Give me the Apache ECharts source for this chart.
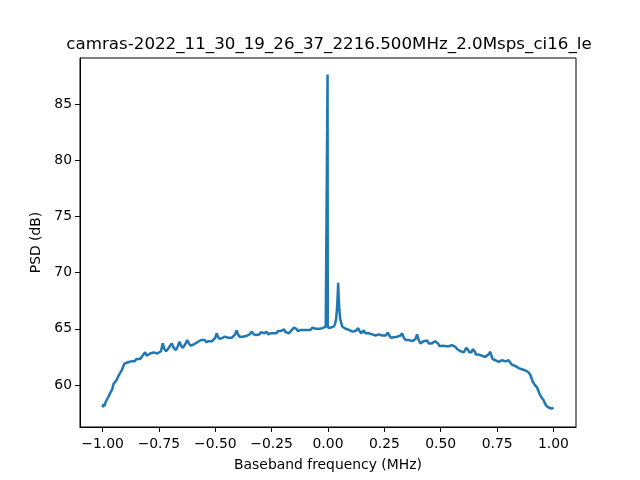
<!DOCTYPE html>
<html>
<head>
<meta charset="utf-8">
<script src="https://cdn.jsdelivr.net/npm/echarts@6/dist/echarts.min.js"></script>
<style>html,body{margin:0;padding:0;background:#fff}#c{width:640px;height:480px}</style>
</head>
<body>
<div id="c"></div>
<script>
const titleText = 'camras-2022_11_30_19_26_37_2216.500MHz_2.0Msps_ci16_le';
const xLabel = 'Baseband frequency (MHz)';
const yLabel = 'PSD (dB)';
const xTicks = [-1.0, -0.75, -0.5, -0.25, 0.0, 0.25, 0.5, 0.75, 1.0];
const yTicks = [60, 65, 70, 75, 80, 85];

const freqLeft = [-1.000,-0.996,-0.991,-0.986,-0.980,-0.975,-0.969,-0.963,-0.957,-0.951,-0.945,-0.939,-0.933,-0.927,-0.921,-0.915,-0.909,-0.903,-0.897,-0.890,-0.882,-0.874,-0.866,-0.858,-0.850,-0.842,-0.834,-0.826,-0.818,-0.811,-0.804,-0.797,-0.789,-0.781,-0.773,-0.765,-0.757,-0.749,-0.741,-0.733,-0.726,-0.718,-0.710,-0.702,-0.693,-0.684,-0.675,-0.667,-0.659,-0.652,-0.645,-0.637,-0.631,-0.625,-0.617,-0.610,-0.604,-0.596,-0.588,-0.580,-0.572,-0.563,-0.555,-0.547,-0.539,-0.530,-0.522,-0.514,-0.506,-0.500,-0.494,-0.488,-0.481,-0.475,-0.467,-0.458,-0.450,-0.443,-0.435,-0.427,-0.419,-0.412,-0.406,-0.399,-0.392,-0.386,-0.378,-0.370,-0.363,-0.357,-0.348,-0.338,-0.329,-0.320,-0.312,-0.305,-0.298,-0.291,-0.282,-0.273,-0.265,-0.255,-0.246,-0.238,-0.229,-0.222,-0.217,-0.210,-0.202,-0.195,-0.188,-0.180,-0.173,-0.165,-0.157,-0.151,-0.146,-0.140,-0.134,-0.128,-0.120,-0.112,-0.105,-0.099,-0.092,-0.085,-0.078,-0.070,-0.062,-0.055,-0.047,-0.040,-0.033,-0.025,-0.018,-0.010,-0.004];
const psdLeft = [58.0,58.3,58.1,58.5,58.6,58.9,59.0,59.4,59.6,60.1,60.2,60.4,60.5,60.9,61.1,61.3,61.6,61.9,61.8,62.0,61.9,62.1,62.2,62.1,62.3,62.4,62.3,62.5,62.6,62.9,62.6,62.7,62.8,62.7,62.9,62.8,62.8,62.9,63.0,63.7,63.2,63.0,63.2,63.3,63.7,63.3,63.1,63.4,63.85,63.5,63.3,63.5,63.7,64.0,63.7,63.5,63.4,63.6,63.7,63.8,63.8,64.0,63.9,64.0,63.8,63.9,64.0,63.9,64.05,64.2,64.6,64.3,64.1,64.05,64.2,64.3,64.35,64.2,64.05,64.2,64.3,64.5,64.85,64.5,64.3,64.25,64.3,64.2,64.35,64.3,64.5,64.75,64.5,64.45,64.6,64.5,64.7,64.55,64.6,64.75,64.5,64.6,64.6,64.7,64.6,64.8,64.65,64.8,64.7,64.95,64.7,64.6,64.6,64.8,64.9,65.1,65.25,65.0,64.8,64.75,64.9,64.8,64.9,64.75,64.9,65.0,64.9,65.1,65.25,65.0,64.85,65.0,65.1,65.05,65.1,65.2,65.2];

const freqCenter = [-0.003,-0.002,-0.001,0.000];
const psdCenter = [65.3,87.65,65.4,65.1];

const freqRight = [0.004,0.011,0.018,0.025,0.031,0.036,0.040,0.043,0.045,0.047,0.050,0.054,0.059,0.063,0.070,0.078,0.085,0.093,0.100,0.108,0.115,0.122,0.128,0.134,0.140,0.147,0.153,0.159,0.166,0.174,0.181,0.189,0.196,0.204,0.211,0.218,0.226,0.233,0.240,0.248,0.256,0.265,0.272,0.279,0.285,0.292,0.300,0.307,0.314,0.322,0.329,0.336,0.344,0.351,0.358,0.366,0.374,0.381,0.388,0.395,0.402,0.410,0.418,0.425,0.433,0.440,0.447,0.454,0.461,0.468,0.475,0.481,0.488,0.495,0.502,0.510,0.518,0.526,0.535,0.542,0.550,0.558,0.565,0.572,0.580,0.588,0.595,0.602,0.608,0.613,0.617,0.622,0.627,0.632,0.637,0.642,0.646,0.651,0.656,0.661,0.668,0.676,0.683,0.690,0.697,0.704,0.711,0.716,0.720,0.725,0.730,0.735,0.742,0.750,0.757,0.764,0.772,0.779,0.787,0.794,0.801,0.808,0.816,0.823,0.830,0.838,0.845,0.853,0.860,0.867,0.875,0.882,0.890,0.897,0.903,0.908,0.912,0.917,0.922,0.926,0.931,0.936,0.941,0.946,0.951,0.956,0.961,0.966,0.970,0.976,0.982,0.988,0.994,1.000];
const psdRight = [65.0,65.1,65.0,65.2,65.4,65.9,66.8,68.0,69.1,68.0,66.8,65.9,65.5,65.2,65.1,65.0,64.9,64.9,64.8,64.75,64.7,64.8,64.9,65.05,64.8,64.6,64.7,64.85,64.6,64.45,64.6,64.65,64.5,64.55,64.4,64.45,64.5,64.6,64.4,64.3,64.4,64.65,64.4,64.2,64.15,64.25,64.3,64.3,64.35,64.4,64.6,64.2,64.0,64.05,64.0,63.95,63.9,63.85,64.1,64.5,64.0,63.7,63.8,63.9,63.95,63.95,63.7,63.55,63.7,63.85,63.9,64.05,63.7,63.45,63.5,63.5,63.4,63.45,63.45,63.5,63.55,63.65,63.4,63.2,63.1,63.0,62.95,62.9,63.1,63.3,63.45,63.1,62.9,62.75,62.9,63.2,63.35,63.0,62.7,62.6,62.7,62.75,62.6,62.45,62.5,62.6,62.7,62.8,62.95,62.6,62.3,62.2,62.2,62.1,62.05,62.1,62.2,62.15,62.1,62.2,62.2,62.0,61.8,61.75,61.7,61.6,61.5,61.5,61.4,61.35,61.3,61.2,61.1,60.9,60.6,60.3,60.15,60.0,59.9,59.8,59.6,59.3,59.1,58.9,58.8,58.65,58.4,58.3,58.1,58.2,57.95,58.0,57.9,58.0];

const freq = freqLeft.concat(freqCenter, freqRight);
const psd = psdLeft.concat(psdCenter, psdRight);
const seriesData = freq.map((f, i) => [f, psd[i]]);

const fmt = v => {
  const s = Math.abs(v).toFixed(2);
  return (v < -1e-9 ? '\u2212' : '') + s;
};

const chart = echarts.init(document.getElementById('c'), null, {renderer: 'canvas'});
const font = 'DejaVu Sans';
chart.setOption({
  animation: false,
  backgroundColor: '#ffffff',
  title: {
    text: titleText,
    left: 324, top: 31, textAlign: 'center',
    textStyle: {fontFamily: font, fontSize: 16.7, fontWeight: 'normal', color: '#000'}
  },
  grid: {left: 80, right: 64, top: 58, bottom: 53, show: true, borderColor: '#000', borderWidth: 1, backgroundColor: 'transparent'},
  xAxis: {
    type: 'value', min: -1.1, max: 1.1,
    name: xLabel, nameLocation: 'middle', nameGap: 31,
    nameTextStyle: {fontFamily: font, fontSize: 13.9, color: '#000'},
    axisLine: {show: true, onZero: false, lineStyle: {color: '#000', width: 1}},
    axisTick: {show: true, inside: false, length: 5, lineStyle: {color: '#000'}, customValues: xTicks},
    axisLabel: {show: true, customValues: xTicks, formatter: fmt, margin: 10, fontFamily: font, fontSize: 13.9, color: '#000'},
    splitLine: {show: false}
  },
  yAxis: {
    type: 'value', min: 56.25, max: 89.13,
    name: yLabel, nameLocation: 'middle', nameGap: 33, nameRotate: 90,
    nameTextStyle: {fontFamily: font, fontSize: 13.9, color: '#000'},
    axisLine: {show: true, onZero: false, lineStyle: {color: '#000', width: 1}},
    axisTick: {show: true, inside: false, length: 5, lineStyle: {color: '#000'}, customValues: yTicks},
    axisLabel: {show: true, customValues: yTicks, formatter: v => String(v), margin: 8, fontFamily: font, fontSize: 13.9, color: '#000'},
    splitLine: {show: false}
  },
  series: [{
    type: 'line',
    data: seriesData,
    showSymbol: false,
    symbol: 'none',
    lineStyle: {color: '#1f77b4', width: 2.5},
    clip: true
  }]
});
</script>
</body>
</html>
